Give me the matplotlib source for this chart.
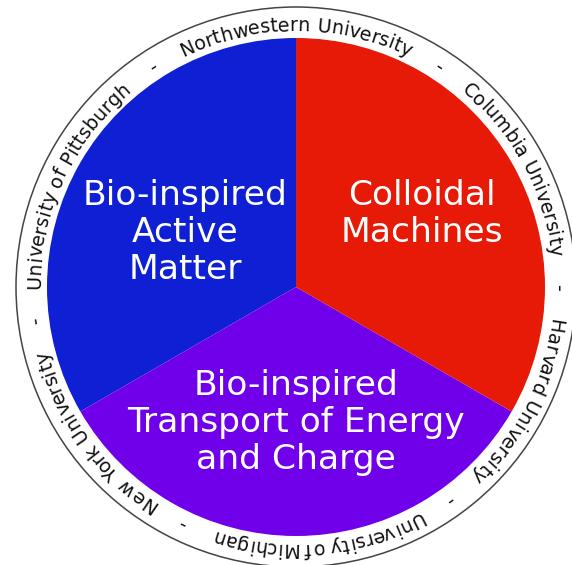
import numpy as np
import matplotlib
matplotlib.use("Agg")
import matplotlib.pyplot as plt
from matplotlib.patches import Circle
from matplotlib.font_manager import FontProperties, findfont, get_font

# the three themes (counter clockwise, starting at the top)
themes = ["Bio-inspired\nActive\nMatter",
          "Bio-inspired\nTransport of Energy\nand Charge",
          "Colloidal\nMachines"]
shares = [1, 1, 1]
theme_colors = ["#0e1fd4", "#7000ea", "#e61a06"]

# universities around the rim (clockwise, starting at the top)
universities = ["Northwestern University", "Columbia University",
                "Harvard University", "University of Michigan",
                "New York University", "University of Pittsburgh"]

W, H = 572, 565
cx, cy = 296, H - 287
r_pie = 249
r_out = 280
r_base = 256
ring_pt = 13.8

fig = plt.figure(figsize=(W / 100, H / 100), dpi=100)
ax = fig.add_axes([0, 0, 1, 1])

ax.add_patch(Circle((cx, cy), r_out, facecolor="white", edgecolor="#444444", lw=1.1, zorder=0))
ax.pie(shares, colors=theme_colors, startangle=90, counterclock=True,
       radius=r_pie, center=(cx, cy), frame=True,
       wedgeprops=dict(linewidth=0))

# theme labels, first baseline of each block (image coords)
anchors = [(185, 205), (296, 395), (422, 205)]
for label, (x, y) in zip(themes, anchors):
    for i, line in enumerate(label.split("\n")):
        ax.text(x, H - (y + 37 * i), line, color="white", fontsize=24.8,
                family="DejaVu Sans", ha="center", va="baseline")

# text around the ring, one glyph at a time
prop = FontProperties(family="DejaVu Sans", size=ring_pt)
font = get_font(findfont(prop))
font.set_size(ring_pt, 100)


def advance(ch):
    g = font.load_char(ord(ch))
    return g.linearHoriAdvance / 65536


name_widths = [sum(advance(c) for c in name) for name in universities]
gap = (2 * np.pi * r_base - sum(name_widths)) / len(universities)

theta0 = np.pi / 2 + name_widths[0] / 2 / r_base
s = 0.0


def put(ch, s_mid):
    th = theta0 - s_mid / r_base
    ax.text(cx + r_base * np.cos(th), cy + r_base * np.sin(th), ch,
            fontproperties=prop, color="#111111", ha="center", va="baseline",
            rotation=np.degrees(th) - 90, rotation_mode="anchor")


for name, w in zip(universities, name_widths):
    for ch in name:
        a = advance(ch)
        if ch != " ":
            put(ch, s + a / 2)
        s += a
    put("-", s + gap / 2)
    s += gap

ax.set_xlim(0, W)
ax.set_ylim(0, H)
ax.set_aspect("equal")
ax.axis("off")
fig.savefig("out.png", dpi=100, facecolor="white")
